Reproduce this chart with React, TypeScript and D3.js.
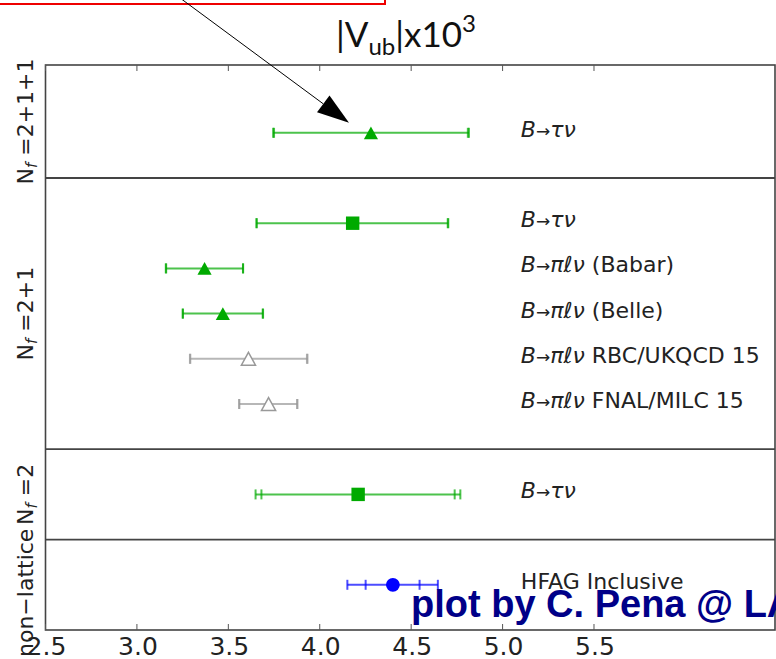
import * as d3 from "d3";

// rows, top to bottom
const rowLabels = [
  ["B", "→", "τν", ""],
  ["B", "→", "τν", ""],
  ["B", "→", "πℓν", " (Babar)"],
  ["B", "→", "πℓν", " (Belle)"],
  ["B", "→", "πℓν", " RBC/UKQCD 15"],
  ["B", "→", "πℓν", " FNAL/MILC 15"],
  ["B", "→", "τν", ""],
  ["", "", "", "HFAG Inclusive"],
];
const rowPos = [10, 8, 7, 6, 5, 4, 2, 0];
const centers = [4.28, 4.18, 3.37, 3.47, 3.61, 3.72, 4.21, 4.4];
const totLo = [3.745, 3.654, 3.158, 3.25, 3.29, 3.559, 3.649, 4.151];
const totHi = [4.816, 4.703, 3.581, 3.69, 3.933, 3.878, 4.769, 4.646];
const statLo = [3.75, 3.655, 3.16, 3.252, 3.292, 3.56, 3.681, 4.251];
const statHi = [4.81, 4.70, 3.58, 3.688, 3.93, 3.876, 4.738, 4.546];
const markers = ["tri", "sq", "tri", "tri", "triOpen", "triOpen", "sq", "circle"];

const separators = [1, 3, 9];
const groupBands = [
  [9, 11.5],
  [3, 9],
  [1, 3],
];
const groupNf = ["2+1+1", "2+1", "2"];
const nonLatticeBand = [-1, 1];

const xTicks = [2.5, 3.0, 3.5, 4.0, 4.5, 5.0, 5.5];

const W = 776;
const H = 659;

const colorOf = (m: string) =>
  m === "circle" ? "#0000ff" : m === "triOpen" ? "#999999" : "#00aa00";

// matplotlib style '^': centred on its box
const mplTriangle = {
  draw(ctx: any, size: number) {
    const r = Math.sqrt(size) / 2;
    ctx.moveTo(0, -r);
    ctx.lineTo(r * 1.1, r);
    ctx.lineTo(-r * 1.1, r);
    ctx.closePath();
  },
};

export default function App() {
  const x = d3.scaleLinear().domain([2.5, 6.49]).range([45.5, 775]);
  const y = d3.scaleLinear().domain([-1, 11.5]).range([630, 65]);
  const labelX = x(5.1);
  const font = "'DejaVu Sans', sans-serif";

  const symbolPath = (m: string) => {
    if (m === "sq") return d3.symbol().type(d3.symbolSquare).size(180)()!;
    if (m === "circle") return d3.symbol().type(d3.symbolCircle).size(150)()!;
    return d3.symbol().type(mplTriangle as any).size(165)()!;
  };

  // annotation arrow in data coords
  const tip = [x(4.16), y(10.22)];
  const tail = [x(3.24), y(12.97)];
  const ang = Math.atan2(tip[1] - tail[1], tip[0] - tail[0]);
  const hl = 32;
  const hw = 10.5;
  const bx = tip[0] - hl * Math.cos(ang);
  const by = tip[1] - hl * Math.sin(ang);
  const head = [
    [tip[0], tip[1]],
    [bx + hw * Math.sin(ang), by - hw * Math.cos(ang)],
    [bx - hw * Math.sin(ang), by + hw * Math.cos(ang)],
  ];

  return (
    <svg
      width={W}
      height={H}
      style={{ position: "absolute", left: 0, top: 0, background: "#fff" }}
    >
      {/* red box from the slide */}
      <rect x={-4} y={-20} width={389} height={24} fill="none" stroke="#ee0000" strokeWidth={2} />

      {/* title */}
      <text x={336} y={47} fontFamily="Lato, 'Open Sans', sans-serif" fontSize={35} fill="#111">
        |V
        <tspan fontSize={24} dy={8}>ub</tspan>
        <tspan dy={-8}>|x10</tspan>
        <tspan fontSize={24} dy={-15}>3</tspan>
      </text>

      {/* frame */}
      <rect x={x(2.5)} y={y(11.5)} width={x(6.49) - x(2.5)} height={y(-1) - y(11.5)} fill="none" stroke="#444" strokeWidth={1.6} />
      {separators.map((s) => (
        <line key={s} x1={x(2.5)} x2={x(6.49)} y1={y(s)} y2={y(s)} stroke="#444" strokeWidth={1.8} />
      ))}

      {/* ticks */}
      {xTicks.map((t) => (
        <g key={t}>
          <line x1={x(t)} x2={x(t)} y1={y(-1)} y2={y(-1) - 6} stroke="#555" strokeWidth={1} />
          <line x1={x(t)} x2={x(t)} y1={y(11.5)} y2={y(11.5) + 6} stroke="#555" strokeWidth={1} />
          <text x={x(t) + 1} y={655} textAnchor="middle" fontFamily={font} fontSize={25} fill="#222">
            {t.toFixed(1)}
          </text>
        </g>
      ))}

      {/* group labels */}
      {groupBands.map((b, i) => (
        <text
          key={i}
          transform={`translate(33,${y((b[0] + b[1]) / 2)}) rotate(-90)`}
          textAnchor="middle"
          fontFamily={font}
          fontSize={22}
          fill="#222"
        >
          N<tspan fontSize={15} dy={4} fontStyle="italic">f</tspan>
          <tspan dy={-4}> ={groupNf[i]}</tspan>
        </text>
      ))}
      <text
        transform={`translate(33,${y((nonLatticeBand[0] + nonLatticeBand[1]) / 2) + 8}) rotate(-90)`}
        textAnchor="middle"
        fontFamily={font}
        fontSize={22}
        fill="#222"
      >
        non−lattice
      </text>

      {/* error bars and markers */}
      {rowPos.map((r, i) => {
        const c = colorOf(markers[i]);
        const yy = y(r);
        const caps = [totLo[i], statLo[i], statHi[i], totHi[i]];
        return (
          <g key={i}>
            <g stroke={c} strokeOpacity={0.7} strokeWidth={2}>
              <line x1={x(totLo[i])} x2={x(totHi[i])} y1={yy} y2={yy} />
              {caps.map((v, k) => (
                <line key={k} x1={x(v)} x2={x(v)} y1={yy - 5} y2={yy + 5} />
              ))}
            </g>
            <path
              d={symbolPath(markers[i])}
              transform={`translate(${x(centers[i])},${yy})`}
              fill={markers[i] === "triOpen" ? "#fff" : c}
              stroke={markers[i] === "triOpen" ? "#999" : "none"}
              strokeWidth={1.5}
            />
            <text x={labelX} y={yy + 4} fontFamily={font} fontSize={22} fill="#222">
              <tspan fontStyle="italic">{rowLabels[i][0]}</tspan>
              <tspan fontSize={17}>{rowLabels[i][1]}</tspan>
              <tspan fontStyle="italic">{rowLabels[i][2]}</tspan>
              {rowLabels[i][3]}
            </text>
          </g>
        );
      })}

      {/* annotation arrow */}
      <line x1={tail[0]} y1={tail[1]} x2={bx} y2={by} stroke="#000" strokeWidth={1} />
      <polygon points={head.map((p) => p.join(",")).join(" ")} fill="#000" />

      <text x={411} y={617} fontFamily="'Liberation Sans', Arial, sans-serif" fontWeight="bold" fontSize={38} fill="#000088">
        plot by C. Pena @ LA
      </text>
    </svg>
  );
}
